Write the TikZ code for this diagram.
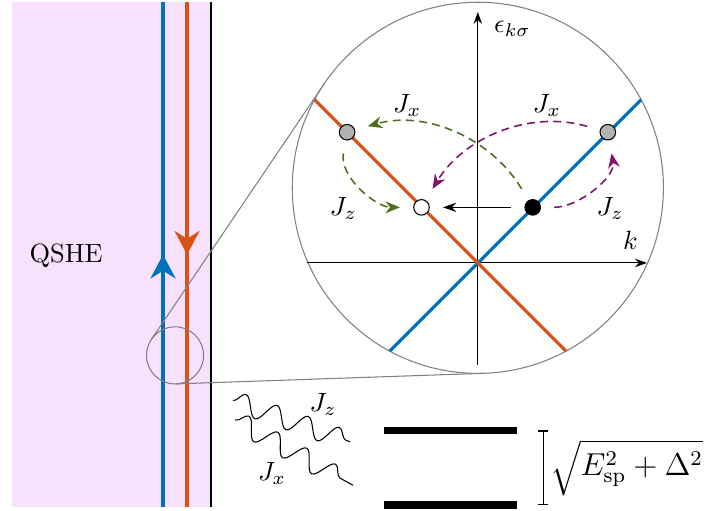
\documentclass[tikz,border=0pt]{standalone}
\usepackage{amsmath,amssymb}
\usepackage{tikz}
\usetikzlibrary{arrows.meta,calc,decorations.pathmorphing,decorations.markings}
\definecolor{qshepink}{RGB}{248,225,252}
\definecolor{edgeblue}{RGB}{0,114,189}
\definecolor{edgeorange}{RGB}{217,83,25}
\definecolor{hopgreen}{RGB}{80,110,30}
\definecolor{hoppurple}{RGB}{128,20,108}

\begin{document}
\begin{tikzpicture}[
      edge/.style={line width=1.2pt},
      midarrow/.style={postaction={decorate},decoration={markings,mark=at position 0.5 with {\arrow{Stealth[length=9pt,width=9.5pt]}}}},
      lensline/.style={draw=gray,thin},
      dot/.style={circle,draw,inner sep=0pt,minimum size=5.9pt},
      hop/.style={-{Stealth[length=5.5pt,width=4.5pt]},semithick,dash pattern=on 3pt off 2pt,shorten <=5pt,shorten >=5pt},
      axis/.style={-{Stealth[length=4.5pt,width=3.2pt]}},
      wave/.style={decorate,decoration={snake,segment length=12.5pt,amplitude=3.8pt}},
      level/.style={line width=2.8pt}
    ]
      \useasboundingbox (0,0) rectangle (9.53,6.79);
      % QSHE bar with its helical edge
      \fill[qshepink] (0.16,0.04) rectangle (2.81,6.76);
      \draw[thick] (2.81,0.04) -- (2.81,6.76);
      \draw[edge,edgeblue,midarrow] (2.17,0.04) -- (2.17,6.76);
      \draw[edge,edgeorange,midarrow] (2.49,6.76) -- (2.49,0.04);
      \node (qshe) at (0.88,3.39) {QSHE};

      % zoom onto the edge
      \node[lensline,circle,inner sep=0pt,outer sep=0pt,minimum size=0.76cm] (spot) at (2.33,2.06) {};
      \node[lensline,circle,inner sep=0pt,outer sep=0pt,minimum size=4.94cm] (lens) at (6.36,4.29) {};
      \draw[lensline] (spot.146) -- (lens.146);
      \draw[lensline] (spot.-88) -- (lens.-88);

      \begin{scope}[shift={(6.36,3.29)}]
        \draw[axis] (-2.28,0) -- (2.25,0);
        \draw[axis] (0,-1.36) -- (0,3.34);
        \begin{scope}
          \clip (0,1) circle (2.47);
          \draw[edge,edgeblue] (-3,-3) -- (3,3);
          \draw[edge,edgeorange] (-3,3) -- (3,-3);
        \end{scope}
        \node (eps) at (0.46,3.12) {$\epsilon_{k\sigma}$};
        \node (klab) at (2.03,0.30) {$k$};

        \node[dot,fill=gray!60] (gl) at (-1.74,1.74) {};
        \node[dot,fill=gray!60] (gr) at (1.73,1.74) {};
        \node[dot,fill=white] (wht) at (-0.75,0.74) {};
        \node[dot,fill=black] (blk) at (0.73,0.74) {};

        \draw[hop,hopgreen] (blk) to[out=121,in=16] (gl);
        \draw[hop,hopgreen] (gl) to[out=-100,in=180] (wht);
        \draw[hop,hoppurple] (gr) to[out=164,in=59] (wht);
        \draw[hop,hoppurple] (blk) to[out=0,in=-80] (gr);
        \draw[-{Stealth[length=5pt,width=3.5pt]},semithick,shorten <=5pt,shorten >=5pt] (blk) -- (wht);

        \node (jxg) at (-0.94,2.10) {$J_x$};
        \node (jxp) at (0.92,2.10) {$J_x$};
        \node (jzg) at (-1.79,0.73) {$J_z$};
        \node (jzp) at (1.76,0.73) {$J_z$};
      \end{scope}

      % photons and the two levels
      \draw[wave] (3.10,1.46) -- (4.66,0.91);
      \draw[wave] (3.13,1.20) -- (4.70,0.33);
      \node (jzw) at (4.30,1.40) {$J_z$};
      \node (jxw) at (3.62,0.49) {$J_x$};
      \draw[level] (5.11,1.06) -- (6.88,1.06);
      \draw[level] (5.11,0.07) -- (6.88,0.07);
      \draw[{Bar[width=4pt]}-{Bar[width=4pt]}] (7.23,1.06) -- node[right,inner sep=2.5pt]{\fontsize{11.5}{14}\selectfont$\sqrt{E_{\mathrm{sp}}^2+\Delta^2}$} (7.23,0.07);
    \end{tikzpicture}
\end{document}
